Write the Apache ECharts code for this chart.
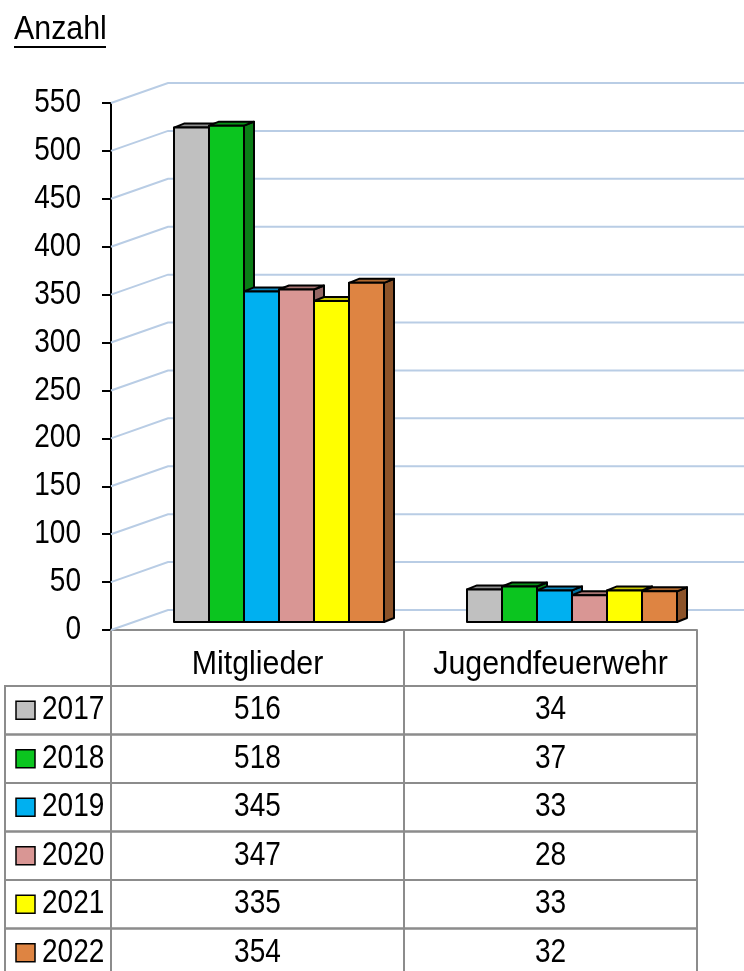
<!DOCTYPE html>
<html>
<head>
<meta charset="utf-8">
<script src="https://cdn.jsdelivr.net/npm/echarts@6/dist/echarts.min.js"></script>
<style>
  html, body { margin: 0; padding: 0; background: #fff; }
  #chart { width: 744px; height: 971px; }
</style>
</head>
<body>
<div id="chart"></div>
<script>
// Daten
const categories = ['Mitglieder', 'Jugendfeuerwehr'];
const years = ['2017', '2018', '2019', '2020', '2021', '2022'];
const mitglieder = [516, 518, 345, 347, 335, 354];
const jugendfeuerwehr = [34, 37, 33, 28, 33, 32];
const yTicks = [0, 50, 100, 150, 200, 250, 300, 350, 400, 450, 500, 550];

// Farben: Vorderseite, Oberseite, Seite
const frontColors = ['#C0C0C0', '#0BC51F', '#00B0F0', '#D99694', '#FFFF00', '#DE8442'];
const topColors   = ['#8E8E8E', '#089017', '#0A88BE', '#A87472', '#C8C800', '#B0692F'];
const sideColors  = ['#7A7A7A', '#0A7D16', '#0070A0', '#946664', '#A6A600', '#8C5329'];

// schmale Schrift nachgebildet: Liberation Sans, horizontal gestaucht
const FONT = "'Liberation Sans', Arial, sans-serif";
const FONT_SIZE = 33;
const NUM_SCALE = 0.85, WORD_SCALE = 0.92;
const BAR_W = 35;
const GROUP_OFFSET = -83.5;   // Start der Gruppe relativ zur Kategoriemitte
const LIFT = 8;               // Balken stehen etwas hinter der Vorderkante
const DX = 10, DY = -4;       // Tiefe der Balken
const WALL_DX = 57, WALL_DY = -20;
const TABLE_TOP = 686, ROW_H = 48.5, TABLE_LEFT = 5, TABLE_RIGHT = 697;
const HEADER_Y = 665;
const GRID_COLOR = '#B9CDE5';
const TABLE_LINE = '#8C8C8C';

function label(text, x, y, align, scale) {
  return {
    type: 'text', x: x, y: y, scaleX: scale,
    style: { text: text, x: 0, y: 0, fill: '#000', font: FONT_SIZE + 'px ' + FONT,
      align: align, verticalAlign: 'middle' }
  };
}

const chart = echarts.init(document.getElementById('chart'));

function gridRender(params, api) {
  const v = api.value(1);
  const y = api.coord([0, v])[1];
  const x = params.coordSys.x;
  return {
    type: 'group',
    children: [
      { type: 'polyline',
        shape: { points: [[x, y], [x + WALL_DX, y + WALL_DY], [api.getWidth(), y + WALL_DY]] },
        style: { stroke: GRID_COLOR, lineWidth: 2, fill: null } },
      label(String(v), x - 30, y, 'right', NUM_SCALE)
    ]
  };
}

function barRender(yi) {
  return function (params, api) {
    const cat = api.value(0), val = api.value(1);
    const c0 = api.coord([cat, 0]);
    const c1 = api.coord([cat, val]);
    const x0 = c0[0] + GROUP_OFFSET + yi * BAR_W;
    const x1 = x0 + BAR_W;
    const base = c0[1] - LIFT, top = c1[1] - LIFT;
    const border = { stroke: '#000', lineWidth: 2, lineJoin: 'round' };
    const rowY = TABLE_TOP + yi * ROW_H;
    const children = [
      { type: 'polygon', shape: { points: [[x1, top], [x1 + DX, top + DY], [x1 + DX, base + DY], [x1, base]] },
        style: Object.assign({ fill: sideColors[yi] }, border) },
      { type: 'polygon', shape: { points: [[x0, top], [x0 + DX, top + DY], [x1 + DX, top + DY], [x1, top]] },
        style: Object.assign({ fill: topColors[yi] }, border) },
      { type: 'rect', shape: { x: x0, y: top, width: BAR_W, height: base - top },
        style: Object.assign({ fill: frontColors[yi] }, border) },
      label(String(val), c0[0], rowY + ROW_H / 2, 'center', NUM_SCALE)
    ];
    if (yi === 0) {
      children.push(label(categories[cat], c0[0], HEADER_Y, 'center', WORD_SCALE));
    }
    if (params.dataIndex === 0) {
      children.push(
        { type: 'rect', shape: { x: TABLE_LEFT, y: rowY, width: TABLE_RIGHT - TABLE_LEFT, height: ROW_H },
          style: { fill: null, stroke: TABLE_LINE, lineWidth: 2 } },
        { type: 'rect', shape: { x: 16, y: rowY + ROW_H / 2 - 9, width: 19, height: 18 },
          style: { fill: frontColors[yi], stroke: '#000', lineWidth: 1.5 } },
        label(years[yi], 42, rowY + ROW_H / 2, 'left', NUM_SCALE)
      );
    }
    return { type: 'group', children: children };
  };
}

const series = [{
  type: 'custom',
  name: 'grid',
  renderItem: gridRender,
  data: yTicks.map(v => [0, v]),
  silent: true
}];
years.forEach((y, i) => {
  series.push({
    type: 'custom',
    name: y,
    renderItem: barRender(i),
    data: [[0, mitglieder[i]], [1, jugendfeuerwehr[i]]]
  });
});

chart.setOption({
  animation: false,
  backgroundColor: '#fff',
  graphic: [
    Object.assign(label('Anzahl', 14, 30, 'left', WORD_SCALE), { type: 'text' }),
    { type: 'line', shape: { x1: 14, y1: 47, x2: 106, y2: 47 },
      style: { stroke: '#000', lineWidth: 2 } }
  ],
  grid: { left: 111, right: 47, top: 103, bottom: 341, containLabel: false },
  xAxis: {
    type: 'category',
    data: categories,
    boundaryGap: true,
    axisLine: { show: true, lineStyle: { color: TABLE_LINE, width: 2 } },
    axisTick: { show: true, length: 341, lineStyle: { color: TABLE_LINE, width: 2 } },
    axisLabel: { show: false },
    splitLine: { show: false }
  },
  yAxis: {
    type: 'value',
    min: 0, max: 550, interval: 50,
    axisLine: { show: true, lineStyle: { color: '#000', width: 2 } },
    axisTick: { show: true, length: 9, lineStyle: { color: '#000', width: 2 } },
    axisLabel: { show: false },
    splitLine: { show: false }
  },
  series: series
});
</script>
</body>
</html>
